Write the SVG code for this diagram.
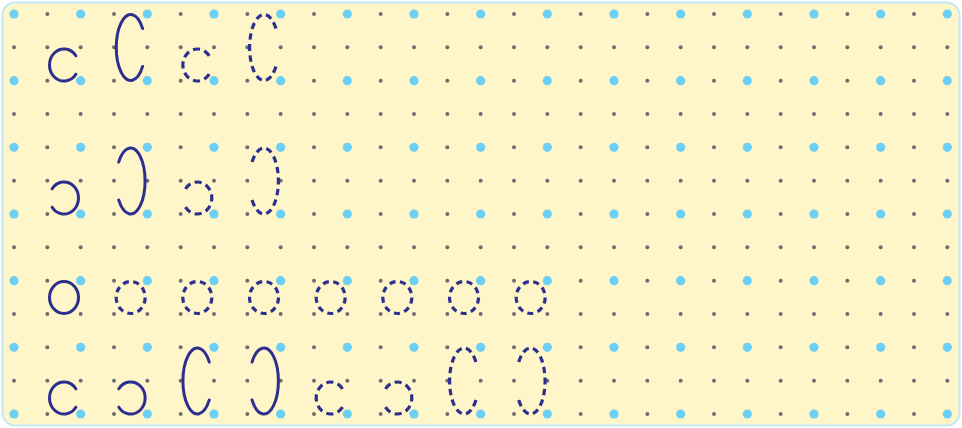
<svg xmlns="http://www.w3.org/2000/svg" xmlns:xlink="http://www.w3.org/1999/xlink" width="962" height="428" viewBox="0 0 962 428">
<style>
.bg{fill:#FEF5C8;stroke:#C3E8F6;stroke-width:2}
.sd{fill:#6E6E70}
.bd{fill:#6BCFF6}
.ln{fill:none;stroke:#2D2F8E;stroke-width:3;stroke-linecap:round}
.dash{stroke-width:3.2;stroke-linecap:butt}
.ds{stroke-dasharray:9.21 5.92}
.dt{stroke-dasharray:5.74 3.69}
.de{stroke-dasharray:6.37 4.74}
</style>
<defs>
<g id="srow">
<circle class="sd" cx="14" cy="0" r="2"/><circle class="sd" cx="47.33" cy="0" r="2"/><circle class="sd" cx="80.67" cy="0" r="2"/><circle class="sd" cx="114" cy="0" r="2"/><circle class="sd" cx="147.33" cy="0" r="2"/><circle class="sd" cx="180.67" cy="0" r="2"/><circle class="sd" cx="214" cy="0" r="2"/><circle class="sd" cx="247.33" cy="0" r="2"/><circle class="sd" cx="280.67" cy="0" r="2"/><circle class="sd" cx="314" cy="0" r="2"/><circle class="sd" cx="347.33" cy="0" r="2"/><circle class="sd" cx="380.67" cy="0" r="2"/><circle class="sd" cx="414" cy="0" r="2"/><circle class="sd" cx="447.33" cy="0" r="2"/><circle class="sd" cx="480.67" cy="0" r="2"/><circle class="sd" cx="514" cy="0" r="2"/><circle class="sd" cx="547.33" cy="0" r="2"/><circle class="sd" cx="580.67" cy="0" r="2"/><circle class="sd" cx="614" cy="0" r="2"/><circle class="sd" cx="647.33" cy="0" r="2"/><circle class="sd" cx="680.67" cy="0" r="2"/><circle class="sd" cx="714" cy="0" r="2"/><circle class="sd" cx="747.33" cy="0" r="2"/><circle class="sd" cx="780.67" cy="0" r="2"/><circle class="sd" cx="814" cy="0" r="2"/><circle class="sd" cx="847.33" cy="0" r="2"/><circle class="sd" cx="880.67" cy="0" r="2"/><circle class="sd" cx="914" cy="0" r="2"/><circle class="sd" cx="947.33" cy="0" r="2"/>
</g>
<g id="brow">
<circle class="bd" cx="14" cy="0" r="4.6"/><circle class="bd" cx="80.67" cy="0" r="4.6"/><circle class="bd" cx="147.33" cy="0" r="4.6"/><circle class="bd" cx="214" cy="0" r="4.6"/><circle class="bd" cx="280.67" cy="0" r="4.6"/><circle class="bd" cx="347.33" cy="0" r="4.6"/><circle class="bd" cx="414" cy="0" r="4.6"/><circle class="bd" cx="480.67" cy="0" r="4.6"/><circle class="bd" cx="547.33" cy="0" r="4.6"/><circle class="bd" cx="614" cy="0" r="4.6"/><circle class="bd" cx="680.67" cy="0" r="4.6"/><circle class="bd" cx="747.33" cy="0" r="4.6"/><circle class="bd" cx="814" cy="0" r="4.6"/><circle class="bd" cx="880.67" cy="0" r="4.6"/><circle class="bd" cx="947.33" cy="0" r="4.6"/>
</g>
</defs>
<rect class="bg" x="2.5" y="2.5" width="957" height="423" rx="13"/>
<g id="grid">
<use href="#srow" xlink:href="#srow" y="14"/>
<use href="#srow" xlink:href="#srow" y="47.33"/>
<use href="#srow" xlink:href="#srow" y="80.67"/>
<use href="#srow" xlink:href="#srow" y="114"/>
<use href="#srow" xlink:href="#srow" y="147.33"/>
<use href="#srow" xlink:href="#srow" y="180.67"/>
<use href="#srow" xlink:href="#srow" y="214"/>
<use href="#srow" xlink:href="#srow" y="247.33"/>
<use href="#srow" xlink:href="#srow" y="280.67"/>
<use href="#srow" xlink:href="#srow" y="314"/>
<use href="#srow" xlink:href="#srow" y="347.33"/>
<use href="#srow" xlink:href="#srow" y="380.67"/>
<use href="#srow" xlink:href="#srow" y="414"/>
<use href="#brow" xlink:href="#brow" y="14"/>
<use href="#brow" xlink:href="#brow" y="80.67"/>
<use href="#brow" xlink:href="#brow" y="147.33"/>
<use href="#brow" xlink:href="#brow" y="214"/>
<use href="#brow" xlink:href="#brow" y="280.67"/>
<use href="#brow" xlink:href="#brow" y="347.33"/>
<use href="#brow" xlink:href="#brow" y="414"/>
</g>
<g id="row1">
<path class="ln" d="M75.88,55.82 A14.5,16 0 1 0 75.88,74.18"/>
<path class="ln" d="M142.64,28.57 A14.5,33 0 1 0 142.64,66.43"/>
<path class="ln dash ds" pathLength="100" d="M209.21,55.82 A14.5,16 0 1 0 209.21,74.18"/>
<path class="ln dash dt" pathLength="100" d="M275.97,28.57 A14.5,33 0 1 0 275.97,66.43"/>
</g>
<g id="row2">
<path class="ln" d="M52.12,188.82 A14.5,16 0 1 1 52.12,207.18"/>
<path class="ln" d="M118.7,162.07 A14.5,33 0 1 1 118.7,199.93"/>
<path class="ln dash ds" pathLength="100" d="M185.45,188.82 A14.5,16 0 1 1 185.45,207.18"/>
<path class="ln dash dt" pathLength="100" d="M252.03,162.07 A14.5,33 0 1 1 252.03,199.93"/>
</g>
<g id="row3">
<ellipse class="ln" cx="64" cy="297.5" rx="14.5" ry="16"/>
<ellipse class="ln dash de" pathLength="100" cx="130.67" cy="297.5" rx="14.5" ry="16"/>
<ellipse class="ln dash de" pathLength="100" cx="197.33" cy="297.5" rx="14.5" ry="16"/>
<ellipse class="ln dash de" pathLength="100" cx="264" cy="297.5" rx="14.5" ry="16"/>
<ellipse class="ln dash de" pathLength="100" cx="330.67" cy="297.5" rx="14.5" ry="16"/>
<ellipse class="ln dash de" pathLength="100" cx="397.33" cy="297.5" rx="14.5" ry="16"/>
<ellipse class="ln dash de" pathLength="100" cx="464" cy="297.5" rx="14.5" ry="16"/>
<ellipse class="ln dash de" pathLength="100" cx="530.67" cy="297.5" rx="14.5" ry="16"/>
</g>
<g id="row4">
<path class="ln" d="M75.88,388.82 A14.5,16 0 1 0 75.88,407.18"/>
<path class="ln" d="M118.79,388.82 A14.5,16 0 1 1 118.79,407.18"/>
<path class="ln" d="M209.3,362.07 A14.5,33 0 1 0 209.3,399.93"/>
<path class="ln" d="M252.03,362.07 A14.5,33 0 1 1 252.03,399.93"/>
<path class="ln dash ds" pathLength="100" d="M342.55,388.82 A14.5,16 0 1 0 342.55,407.18"/>
<path class="ln dash ds" pathLength="100" d="M385.45,388.82 A14.5,16 0 1 1 385.45,407.18"/>
<path class="ln dash dt" pathLength="100" d="M475.97,362.07 A14.5,33 0 1 0 475.97,399.93"/>
<path class="ln dash dt" pathLength="100" d="M518.7,362.07 A14.5,33 0 1 1 518.7,399.93"/>
</g>
</svg>
